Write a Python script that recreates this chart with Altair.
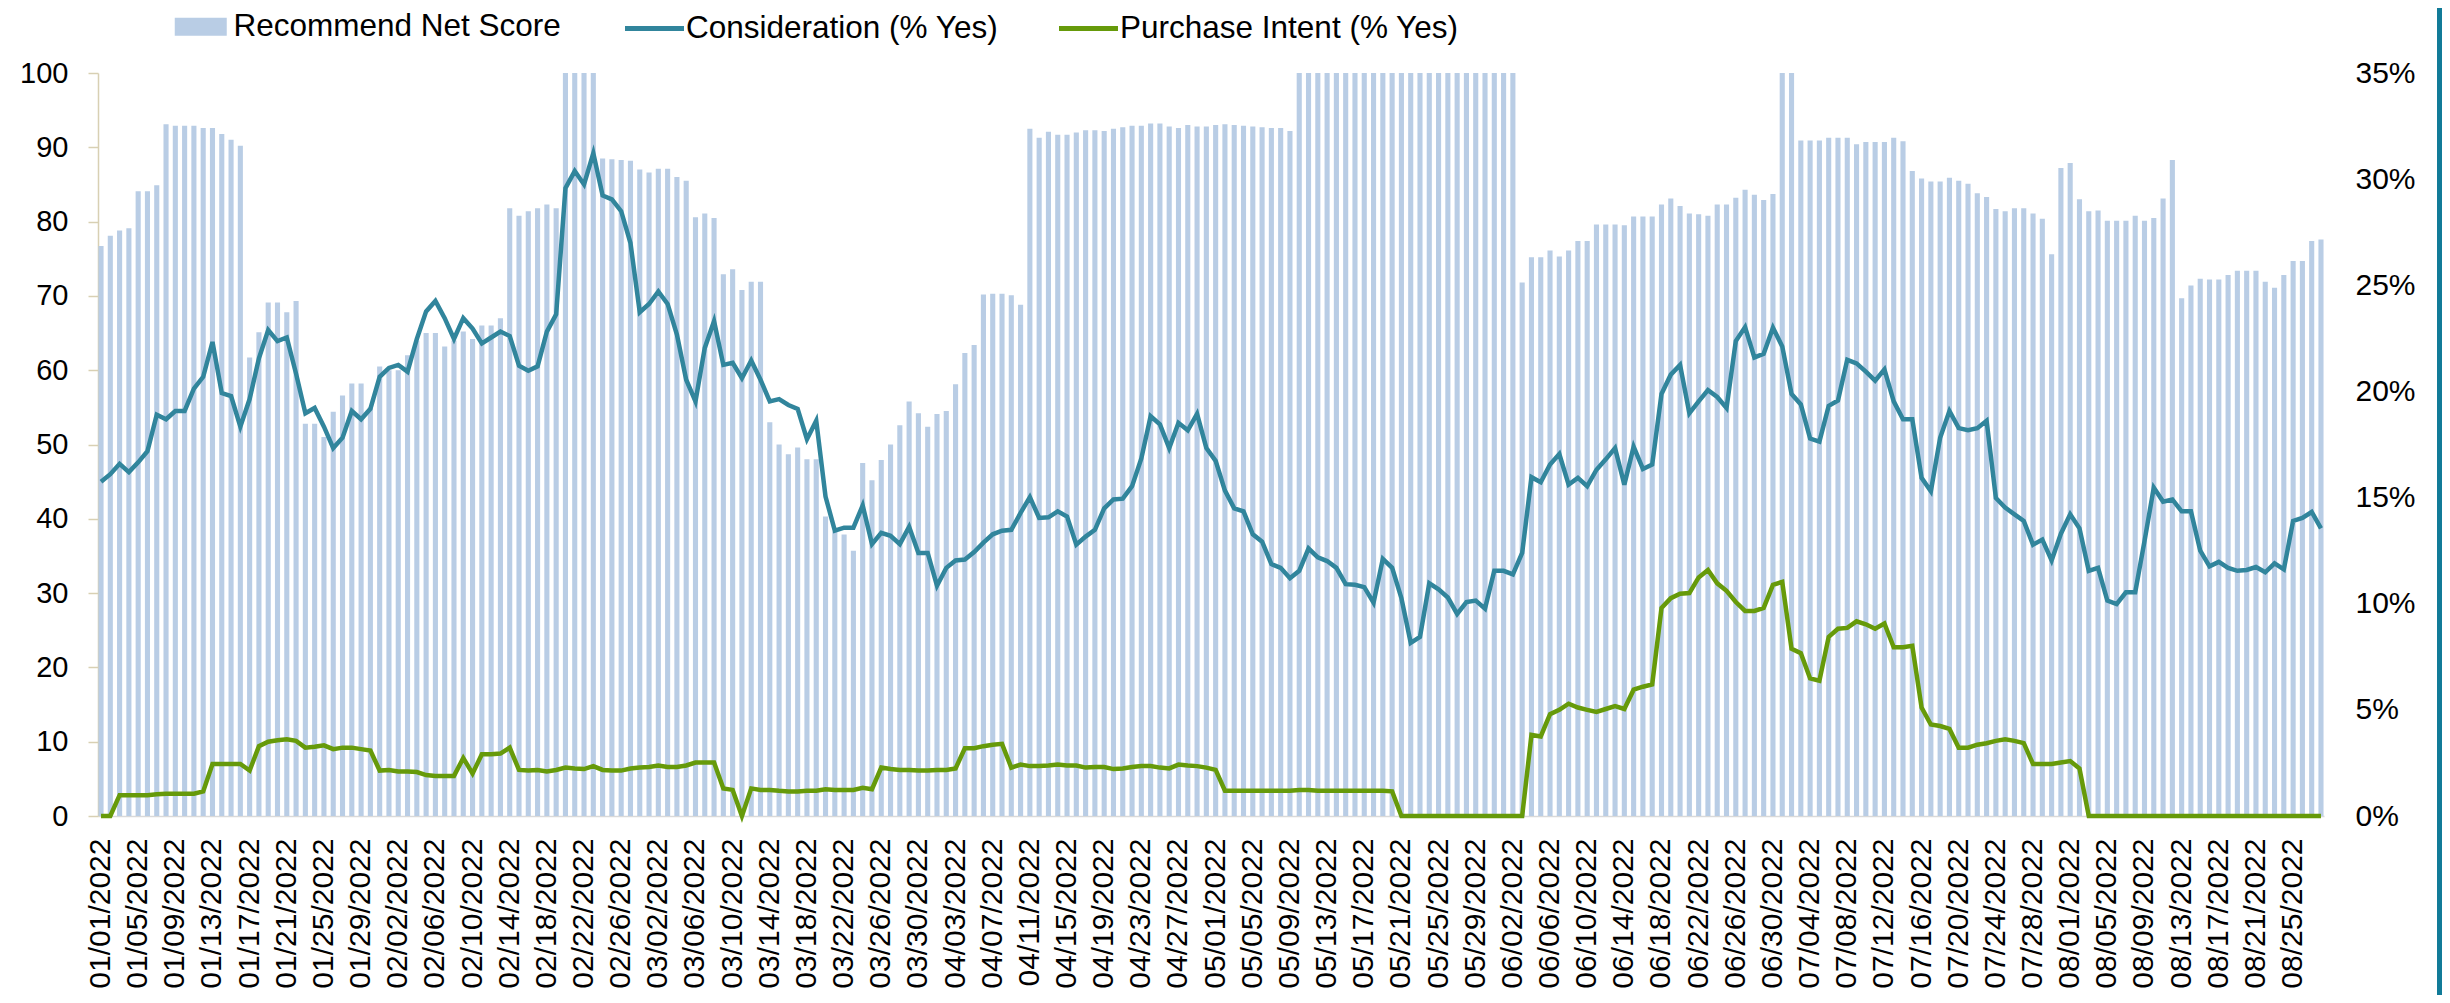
import altair as alt
import pandas as pd

# ---- categories (daily dates) and tick labels ----
dates = [d.strftime("%m/%d/%Y") for d in pd.date_range("2022-01-01", "2022-08-28", freq="D")]
tick_labels = dates[::4]
left_ticks = [0, 10, 20, 30, 40, 50, 60, 70, 80, 90, 100]
right_ticks = [0, 5, 10, 15, 20, 25, 30, 35]

# ---- Recommend Net Score (left axis, bars) ----
rns = [
    76.7, 78.1, 78.8, 79.1, 84.1, 84.1, 84.9, 93.1, 92.9, 92.9,
    92.9, 92.6, 92.6, 91.8, 91.0, 90.2, 61.7, 65.1, 69.1, 69.1,
    67.8, 69.3, 52.8, 52.8, 51.0, 54.4, 56.6, 58.2, 58.2, 55.0,
    60.5, 60.0, 60.0, 62.0, 64.0, 65.0, 65.0, 63.2, 64.0, 65.2,
    64.2, 66.0, 66.0, 67.0, 81.8, 80.8, 81.4, 81.8, 82.3, 81.8,
    100, 100, 100, 100, 88.5, 88.4, 88.3, 88.2, 87.0, 86.6,
    87.1, 87.1, 86.0, 85.5, 80.6, 81.1, 80.5, 72.9, 73.6, 70.8,
    71.9, 71.9, 53.0, 50.0, 48.7, 49.6, 48.0, 48.0, 40.3, 38.3,
    37.9, 35.7, 47.5, 45.2, 47.9, 50.0, 52.6, 55.8, 54.2, 52.4,
    54.1, 54.5, 58.1, 62.3, 63.4, 70.2, 70.3, 70.3, 70.1, 68.8,
    92.5, 91.3, 92.1, 91.7, 91.7, 92.0, 92.3, 92.3, 92.2, 92.5,
    92.7, 92.9, 92.9, 93.2, 93.2, 92.8, 92.6, 93.0, 92.8, 92.8,
    93.0, 93.1, 93.0, 92.9, 92.8, 92.7, 92.6, 92.6, 92.2, 100,
    100, 100, 100, 100, 100, 100, 100, 100, 100, 100,
    100, 100, 100, 100, 100, 100, 100, 100, 100, 100,
    100, 100, 100, 71.8, 75.2, 75.2, 76.1, 75.3, 76.1, 77.4,
    77.4, 79.6, 79.6, 79.6, 79.5, 80.7, 80.7, 80.7, 82.3, 83.1,
    82.1, 81.1, 81.0, 80.8, 82.3, 82.3, 83.2, 84.3, 83.6, 82.9,
    83.7, 100, 100, 90.9, 90.9, 90.9, 91.3, 91.3, 91.3, 90.4,
    90.7, 90.7, 90.7, 91.3, 90.8, 86.8, 85.8, 85.4, 85.4, 85.9,
    85.5, 85.1, 83.8, 83.3, 81.7, 81.4, 81.8, 81.8, 81.1, 80.4,
    75.6, 87.2, 87.9, 83.0, 81.4, 81.5, 80.1, 80.1, 80.1, 80.8,
    80.1, 80.5, 83.1, 88.3, 69.7, 71.4, 72.3, 72.2, 72.2, 72.8,
    73.4, 73.4, 73.4, 71.9, 71.1, 72.8, 74.7, 74.7, 77.4, 77.6,
]

# ---- Consideration (% Yes), right axis ----
consideration = [
    15.75, 16.1, 16.59, 16.2, 16.66, 17.19, 18.9, 18.69, 19.08, 19.08,
    20.13, 20.69, 22.33, 19.92, 19.78, 18.34, 19.64, 21.56, 22.89, 22.37,
    22.54, 20.83, 18.97, 19.22, 18.34, 17.33, 17.82, 19.08, 18.69, 19.18,
    20.69, 21.11, 21.25, 20.93, 22.47, 23.77, 24.26, 23.45, 22.47, 23.45,
    22.96, 22.26, 22.54, 22.82, 22.61, 21.21, 20.97, 21.18, 22.82, 23.63,
    29.58, 30.38, 29.75, 31.22, 29.23, 29.05, 28.49, 26.99, 23.73, 24.12,
    24.71, 24.12, 22.68, 20.55, 19.53, 22.05, 23.31, 21.25, 21.35, 20.62,
    21.46, 20.55, 19.53, 19.64, 19.36, 19.18, 17.75, 18.62, 15.05, 13.44,
    13.58, 13.58, 14.63, 12.81, 13.34, 13.2, 12.81, 13.62, 12.39, 12.39,
    10.85, 11.69, 12.04, 12.08, 12.43, 12.88, 13.27, 13.44, 13.48, 14.28,
    15.02, 14.04, 14.07, 14.35, 14.11, 12.78, 13.16, 13.48, 14.49, 14.91,
    14.95, 15.54, 16.84, 18.83, 18.45, 17.33, 18.52, 18.17, 18.94, 17.33,
    16.73, 15.33, 14.49, 14.35, 13.27, 12.92, 11.87, 11.69, 11.2, 11.55,
    12.6, 12.18, 12.01, 11.69, 10.92, 10.89, 10.78, 10.05, 12.11, 11.69,
    10.26, 8.16, 8.44, 10.96, 10.68, 10.29, 9.52, 10.08, 10.15, 9.77,
    11.55, 11.55, 11.38, 12.39, 15.96, 15.72, 16.56, 17.05, 15.61, 15.93,
    15.54, 16.31, 16.8, 17.33, 15.61, 17.4, 16.35, 16.56, 19.88, 20.79,
    21.25, 18.97, 19.53, 20.06, 19.74, 19.22, 22.37, 23.03, 21.6, 21.77,
    23.0, 22.12, 19.88, 19.39, 17.78, 17.64, 19.32, 19.57, 21.49, 21.32,
    20.93, 20.51, 21.04, 19.53, 18.69, 18.69, 15.93, 15.3, 17.82, 19.08,
    18.27, 18.17, 18.27, 18.62, 14.98, 14.53, 14.21, 13.9, 12.78, 13.02,
    12.04, 13.3, 14.21, 13.55, 11.55, 11.69, 10.15, 9.98, 10.54, 10.54,
    12.95, 15.47, 14.81, 14.91, 14.35, 14.35, 12.5, 11.76, 11.97, 11.69,
    11.55, 11.59, 11.73, 11.48, 11.9, 11.62, 13.9, 14.04, 14.32, 13.55,
]

# ---- Purchase Intent (% Yes), right axis ----
purchase = [
    0, 0, 0.98, 0.98, 0.98, 0.98, 1.02, 1.05, 1.05, 1.05,
    1.05, 1.16, 2.45, 2.45, 2.45, 2.45, 2.14, 3.29, 3.5, 3.57,
    3.61, 3.54, 3.22, 3.26, 3.33, 3.15, 3.22, 3.22, 3.15, 3.08,
    2.14, 2.17, 2.1, 2.1, 2.07, 1.93, 1.89, 1.89, 1.89, 2.73,
    2.0, 2.91, 2.91, 2.94, 3.22, 2.17, 2.14, 2.17, 2.1, 2.17,
    2.28, 2.24, 2.21, 2.35, 2.17, 2.14, 2.14, 2.24, 2.28, 2.31,
    2.38, 2.31, 2.31, 2.38, 2.52, 2.52, 2.52, 1.3, 1.23, 0,
    1.3, 1.23, 1.23, 1.19, 1.16, 1.16, 1.19, 1.19, 1.26, 1.23,
    1.23, 1.23, 1.33, 1.26, 2.28, 2.21, 2.17, 2.17, 2.14, 2.14,
    2.17, 2.17, 2.24, 3.19, 3.19, 3.29, 3.36, 3.4, 2.28, 2.42,
    2.35, 2.35, 2.38, 2.42, 2.38, 2.38, 2.28, 2.31, 2.31, 2.21,
    2.24, 2.31, 2.35, 2.35, 2.28, 2.24, 2.42, 2.38, 2.35, 2.28,
    2.17, 1.19, 1.19, 1.19, 1.19, 1.19, 1.19, 1.19, 1.19, 1.23,
    1.23, 1.19, 1.19, 1.19, 1.19, 1.19, 1.19, 1.19, 1.19, 1.16,
    0, 0, 0, 0, 0, 0, 0, 0, 0, 0,
    0, 0, 0, 0, 3.82, 3.75, 4.8, 5.0, 5.29, 5.11,
    5.0, 4.9, 5.04, 5.18, 5.04, 5.95, 6.09, 6.2, 9.8, 10.26,
    10.47, 10.5, 11.24, 11.59, 10.96, 10.61, 10.08, 9.66, 9.66, 9.8,
    10.89, 11.03, 7.88, 7.67, 6.48, 6.37, 8.44, 8.82, 8.86, 9.17,
    9.03, 8.82, 9.07, 7.95, 7.95, 8.02, 5.11, 4.31, 4.24, 4.1,
    3.22, 3.22, 3.36, 3.43, 3.54, 3.61, 3.54, 3.43, 2.45, 2.45,
    2.45, 2.52, 2.59, 2.24, 0, 0, 0, 0, 0, 0,
    0, 0, 0, 0, 0, 0, 0, 0, 0, 0,
    0, 0, 0, 0, 0, 0, 0, 0, 0, 0,
]

bar_name = "Recommend Net Score"
line_names = ["Consideration (% Yes)", "Purchase Intent (% Yes)"]

bars_df = pd.DataFrame({"date": dates, "value": rns, "series": bar_name})
lines_df = pd.DataFrame({
    "date": dates + dates,
    "value": consideration + purchase,
    "series": [line_names[0]] * len(dates) + [line_names[1]] * len(dates),
})

FONT = "Liberation Sans"

x_enc = alt.X(
    "date:O",
    sort=dates,
    title=None,
    scale=alt.Scale(paddingInner=0.45, paddingOuter=0.05),
    axis=alt.Axis(
        values=tick_labels,
        labelAngle=270,
        labelFontSize=30,
        labelFont=FONT,
        labelColor="#000000",
        labelPadding=22,
        labelOverlap=False,
        ticks=False,
        tickSize=0,
        domainColor="#d9d9d9",
        domainWidth=1.5,
        grid=False,
    ),
)

bars = alt.Chart(bars_df).mark_bar().encode(
    x=x_enc,
    y=alt.Y(
        "value:Q",
        title=None,
        scale=alt.Scale(domain=[0, 100], nice=False),
        axis=alt.Axis(
            orient="left",
            values=left_ticks,
            labelFontSize=29,
            labelFont=FONT,
            labelColor="#000000",
            labelPadding=20,
            tickSize=10,
            tickColor="#d8d0b3",
            domainColor="#d8d0b3",
            domainWidth=1.5,
            tickWidth=1.5,
            grid=False,
        ),
    ),
    fill=alt.Fill(
        "series:N",
        scale=alt.Scale(domain=[bar_name], range=["#b9cde5"]),
        legend=alt.Legend(
            title=None,
            orient="none",
            legendX=87,
            legendY=-62,
            padding=0,
            symbolType="M-2,-0.7L2,-0.7L2,0.7L-2,0.7Z",
            symbolSize=676,
            symbolStrokeWidth=0,
            labelFontSize=31.5,
            labelFont=FONT,
            labelColor="#000000",
            labelOffset=17,
            labelLimit=0,
        ),
    ),
)

lines = alt.Chart(lines_df).mark_line(strokeWidth=4.5).encode(
    x=alt.X("date:O", sort=dates, bandPosition=0.5),
    y=alt.Y(
        "value:Q",
        title=None,
        scale=alt.Scale(domain=[0, 35], nice=False),
        axis=alt.Axis(
            orient="right",
            values=right_ticks,
            labelExpr="datum.value + '%'",
            labelFontSize=30,
            labelFont=FONT,
            labelColor="#000000",
            labelPadding=31,
            ticks=False,
            tickSize=0,
            domain=False,
            grid=False,
        ),
    ),
    stroke=alt.Stroke(
        "series:N",
        sort=line_names,
        scale=alt.Scale(domain=line_names, range=["#31859c", "#669a0a"]),
        legend=alt.Legend(
            title=None,
            orient="none",
            direction="horizontal",
            legendX=539,
            legendY=-62,
            padding=0,
            symbolType="M-2,0L2,0",
            symbolSize=870,
            symbolStrokeWidth=5,
            labelFontSize=31.5,
            labelFont=FONT,
            labelColor="#000000",
            labelOffset=14,
            labelLimit=0,
            columnPadding=50,
        ),
    ),
)

strip = alt.Chart(pd.DataFrame({"k": [0]})).mark_rect(color="#117b98").encode(
    x=alt.value(2339), x2=alt.value(2360), y=alt.value(-80), y2=alt.value(940)
)

chart = (
    alt.layer(bars, lines, strip)
    .resolve_scale(y="independent")
    .properties(
        width=2226,
        height=743,
        padding={"left": 90, "top": 65, "right": 118, "bottom": 179},
        autosize=alt.AutoSizeParams(type="none"),
    )
    .configure_view(stroke=None)
)

chart.save("out.html", embed_options={"renderer": "svg", "actions": False})
